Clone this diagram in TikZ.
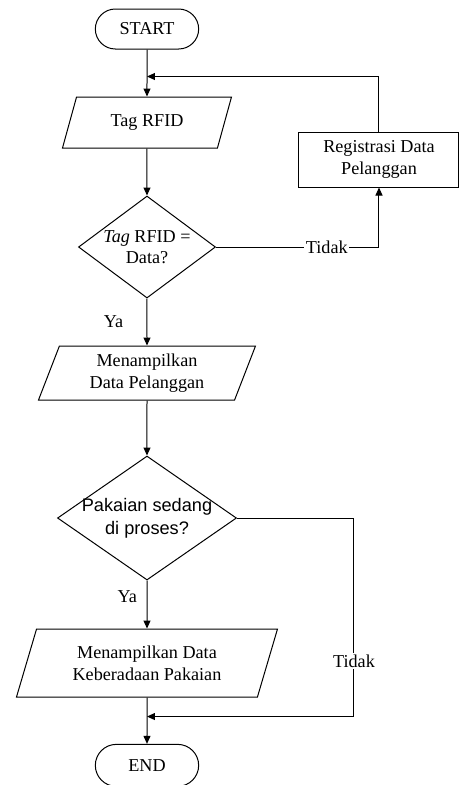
\documentclass[tikz,border=0pt]{standalone}
\usepackage{fontspec}
\setmainfont{Liberation Serif}
\setsansfont{Liberation Sans}
\usetikzlibrary{arrows.meta, positioning, calc, shapes.geometric, shapes.misc}
\tikzset{
  fc base/.style={draw, line width=0.6pt, align=center, inner sep=2pt, font=\fontsize{10.9}{13}\selectfont},
  fc term/.style={fc base, rounded rectangle, minimum width=66pt, minimum height=24pt},
  fc io/.style={fc base, trapezium, trapezium left angle=64, trapezium right angle=116, trapezium stretches body},
  fc dec/.style={fc base, diamond, inner sep=0pt},
  fc proc/.style={fc base, rectangle, minimum width=96pt, minimum height=33pt},
  fc lbl/.style={font=\fontsize{10.9}{13}\selectfont, inner sep=1pt},
  arr/.style={-{Triangle[length=4.8pt, width=4.2pt]}, line width=0.6pt},
  ln/.style={line width=0.6pt},
}
\begin{document}
\begin{tikzpicture}[x=0.6pt, y=0.6pt]
  \useasboundingbox (-147,29) rectangle (313,-756);
  % Nodes
  \node[fc term] (start) {START};
  \node[fc io, minimum width=101.4pt, minimum height=30.6pt, trapezium left angle=58, trapezium right angle=122, below=28.2pt of start] (tag) {Tag RFID};
  \node[fc dec, aspect=1.34, inner sep=-2pt, minimum width=82.2pt, minimum height=61.2pt, below=28.2pt of tag] (dec1) {\textit{Tag} RFID =\\ Data?};
  \node[fc proc] (reg) at ($(dec1)+(232,87.5)$) {Registrasi Data\\ Pelanggan};
  \node[fc io, minimum width=130.2pt, minimum height=32.4pt, trapezium left angle=65, trapezium right angle=115, below=28.2pt of dec1] (disp1) {Menampilkan\\ Data Pelanggan};
  \node[fc dec, aspect=1.44, inner sep=-4pt, minimum width=107.4pt, minimum height=74.4pt, font=\sffamily\fontsize{10.9}{13.6}\selectfont, below=33pt of disp1] (dec2) {Pakaian sedang\\ di proses?};
  \node[fc io, minimum width=156.6pt, minimum height=40.8pt, below=28.8pt of dec2] (disp2) {Menampilkan Data\\ Keberadaan Pakaian};
  \node[fc term, minimum height=25.2pt, below=27.8pt of disp2] (end) {END};

  % Junctions
  \coordinate (m1) at ($(start.south)+(0,-27)$);
  \coordinate (m2) at ($(disp2.south)+(0,-19)$);
  \coordinate (c2) at ($(dec2.east)+(117,0)$);

  % Connectors
  \draw[arr] (start) -- (tag);
  \draw[arr] (tag) -- (dec1);
  \draw[arr] (dec1) -- node[fc lbl, left=13pt] {Ya} (disp1);
  \draw[arr] (disp1) -- (dec2);
  \draw[arr] (dec2) -- node[fc lbl, pos=0.33, left=4.7pt] {Ya} (disp2);
  \draw[arr] (disp2) -- (end);
  \draw[arr] (dec1.east) -- node[fc lbl, pos=0.68, fill=white] {Tidak} (dec1.east -| reg.south) -- (reg.south);
  \draw[arr] (reg.north) -- (reg.north |- m1) -- (m1);
  \draw[arr] (dec2.east) -- (c2) -- node[fc lbl, pos=0.72, fill=white] {Tidak} (c2 |- m2) -- (m2);
\end{tikzpicture}
\end{document}
